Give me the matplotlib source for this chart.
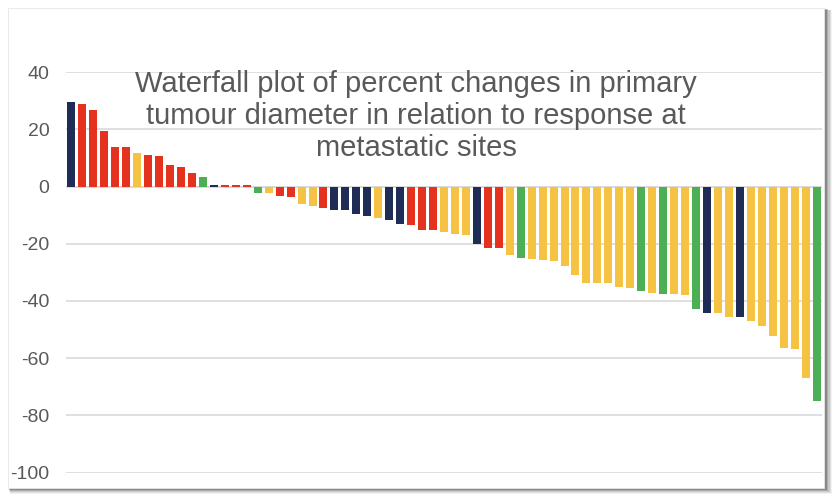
import matplotlib
matplotlib.use('Agg')
import matplotlib.pyplot as plt
from matplotlib.patches import Rectangle
import numpy as np

plt.rcParams['font.family'] = ['Liberation Sans', 'DejaVu Sans']

# Colour per response group
NAVY = '#1f2c56'
RED = '#e5321f'
YELLOW = '#f5c243'
GREEN = '#4caf55'
TEXT = '#595959'
GRID = '#d9d9d9'

# percent change in primary tumour diameter, one bar per patient
changes = [29.5, 29.0, 26.9, 19.3, 13.9, 13.9, 11.9, 11.1, 10.8, 7.7,
           6.9, 4.9, 3.4, 0.6, 0.4, 0.4, 0.4, -2.3, -2.3, -3.4,
           -3.7, -6.2, -6.9, -7.6, -8.0, -8.3, -9.7, -10.1, -10.8, -11.6,
           -12.9, -13.3, -15.0, -15.3, -15.8, -16.4, -16.8, -20.0, -21.3, -21.4,
           -23.9, -24.9, -25.3, -25.6, -25.9, -27.7, -30.8, -33.7, -33.7, -33.7,
           -35.1, -35.4, -36.5, -37.2, -37.5, -37.5, -37.9, -42.8, -44.2, -44.2,
           -45.6, -45.6, -47.0, -48.8, -52.3, -56.5, -56.9, -67.0, -75.1]

# response at metastatic sites: N=navy, R=red, Y=yellow, G=green
response = list('NRRRRRYRRRRRGNRRR'
                'GYRRYYRNNNNYNNRRR'
                'YYYNRRYGYYYYYYYYY'
                'YGYGYYGNYYNYYYYYYG')

tick_vals = [40, 20, 0, -20, -40, -60, -80, -100]
title = ('Waterfall plot of percent changes in primary\n'
         'tumour diameter in relation to response at\n'
         'metastatic sites')

color_map = {'N': NAVY, 'R': RED, 'Y': YELLOW, 'G': GREEN}
colors = [color_map[r] for r in response]

W, H = 840, 498
fig = plt.figure(figsize=(W / 100, H / 100), dpi=100)
fig.patch.set_facecolor('white')

# card frame with soft drop shadow
for i, a in enumerate([0.05, 0.07, 0.10, 0.14, 0.20]):
    off = 6 - i
    fig.patches.append(Rectangle(((8 + off * 0.4) / W, (H - 488 - off) / H),
                                 (816 + off) / W, (480 + off * 0.6) / H,
                                 transform=fig.transFigure, facecolor='#000000',
                                 alpha=a, edgecolor='none', zorder=0))
fig.patches.append(Rectangle((8 / W, (H - 488) / H), 816 / W, 480 / H,
                             transform=fig.transFigure, facecolor='white',
                             edgecolor='#e6e6e6', linewidth=0.6, zorder=1))

ax = fig.add_axes([66 / W, (H - 472.5) / H, (822 - 66) / W, (472.5 - 72.3) / H])
ax.set_facecolor('none')
ax.set_zorder(2)

x = np.arange(len(changes))
ax.bar(x, changes, width=0.73, color=colors, zorder=3)

ax.set_xlim(-0.5, len(changes) - 0.5)
ax.set_ylim(-100, 40)
ax.set_yticks(tick_vals)
ax.set_yticklabels([str(v) for v in tick_vals])
ax.set_xticks([])
ax.grid(axis='y', color=GRID, linewidth=1.2, zorder=0)
ax.axhline(0, color=GRID, linewidth=1.2, zorder=1)
for s in ax.spines.values():
    s.set_visible(False)
ax.tick_params(axis='y', length=0, pad=12, labelsize=14, labelcolor=TEXT)

fig.text(416 / W, (H - 116) / H, title, ha='center', va='center',
         multialignment='center', fontsize=21, color=TEXT,
         linespacing=1.2, zorder=5)

fig.savefig('out.png', dpi=100, facecolor='white')
